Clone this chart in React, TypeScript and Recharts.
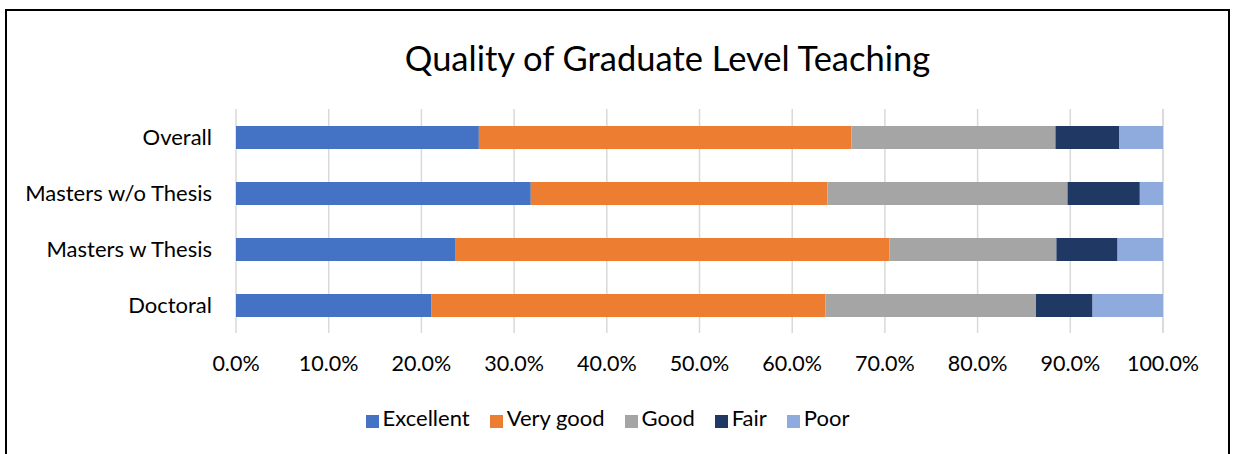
import React from 'react';
import { BarChart, Bar, XAxis, YAxis, CartesianGrid, Legend } from 'recharts';

const categories = ['Overall', 'Masters w/o Thesis', 'Masters w Thesis', 'Doctoral'];
const excellent = [26.2, 31.8, 23.7, 21.1];
const veryGood = [40.2, 32.0, 46.8, 42.5];
const good = [22.0, 25.9, 18.0, 22.7];
const fair = [6.9, 7.8, 6.6, 6.1];
const poor = [4.7, 2.5, 4.9, 7.6];
const xTicks = [0, 10, 20, 30, 40, 50, 60, 70, 80, 90, 100];

const series = [
  { key: 'excellent', name: 'Excellent', color: '#4472C4' },
  { key: 'veryGood', name: 'Very good', color: '#ED7D31' },
  { key: 'good', name: 'Good', color: '#A5A5A5' },
  { key: 'fair', name: 'Fair', color: '#203864' },
  { key: 'poor', name: 'Poor', color: '#8FAADC' },
];
const legendOrder = series.map((s) => s.name);

const data = categories.map((name, i) => ({
  name,
  excellent: excellent[i],
  veryGood: veryGood[i],
  good: good[i],
  fair: fair[i],
  poor: poor[i],
}));

const FONT = 'Lato, "Open Sans", sans-serif';

export default function App() {
  return (
    <div style={{ position: 'absolute', left: 0, top: 0, width: 1233, height: 454, background: '#fff', overflow: 'hidden', fontFamily: FONT }}>
      <div style={{ position: 'absolute', left: 5, top: 9, width: 1221, height: 460, border: '2px solid #000' }} />
      <div style={{ position: 'absolute', left: 0, top: 37, width: 1335, textAlign: 'center', fontSize: 34.5, color: '#000', lineHeight: '42px' }}>
        Quality of Graduate Level Teaching
      </div>
      <div style={{ position: 'absolute', left: 0, top: 0 }}>
        <BarChart
          width={1233}
          height={454}
          data={data}
          layout="vertical"
          margin={{ top: 109, right: 70, left: 0, bottom: 0 }}
        >
          <CartesianGrid horizontal={false} stroke="#d9d9d9" strokeWidth={1.5} />
          <XAxis
            type="number"
            domain={[0, 100]}
            ticks={xTicks}
            tickFormatter={(v: number) => v.toFixed(1) + '%'}
            axisLine={false}
            tickLine={false}
            tickMargin={17}
            height={71}
            tick={{ fill: '#000', fontSize: 21.5, fontFamily: FONT }}
          />
          <YAxis
            type="category"
            dataKey="name"
            width={236}
            axisLine={false}
            tickLine={false}
            tickMargin={18}
            tick={{ fill: '#000', fontSize: 22, fontFamily: FONT }}
          />
          <Legend
            verticalAlign="bottom"
            height={50}
            iconType="square"
            iconSize={13}
            wrapperStyle={{ left: 36 }}
            itemSorter={(item: any) => legendOrder.indexOf(item.value)}
            formatter={(value: string) => (
              <span style={{ color: '#000', fontSize: 22, fontFamily: FONT, marginRight: 10 }}>{value}</span>
            )}
          />
          {series.map((s) => (
            <Bar
              key={s.key}
              dataKey={s.key}
              name={s.name}
              stackId="a"
              fill={s.color}
              barSize={23}
              isAnimationActive={false}
            />
          ))}
        </BarChart>
      </div>
    </div>
  );
}
